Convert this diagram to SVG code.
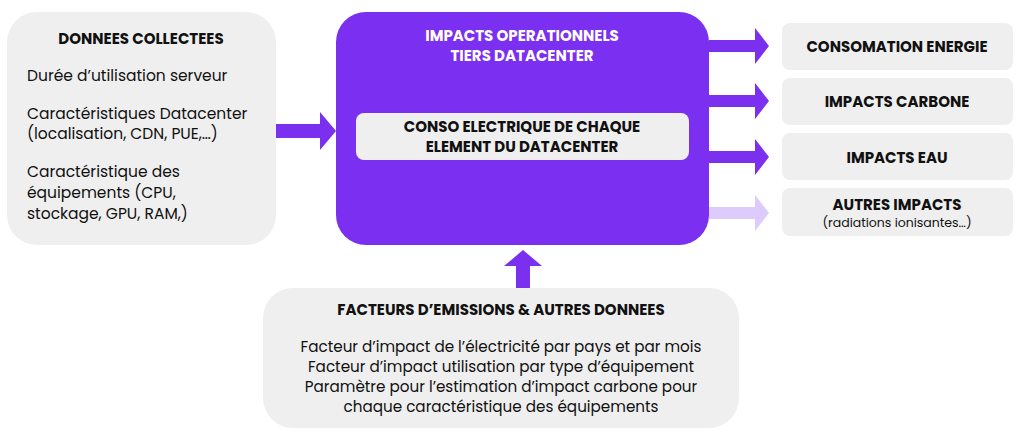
<svg xmlns="http://www.w3.org/2000/svg" width="1024" height="438" viewBox="0 0 1024 438">
<style>
.box{fill:#efefef}
.t{font-family:Poppins,"Noto Sans",sans-serif;font-size:15.5px;fill:#111}
.b{font-weight:bold;font-size:15px}
.w{fill:#fff}
.s{font-size:15.2px}
.arr{fill:#7c30ef}
</style>
<rect width="1024" height="438" fill="#fff"/>
<g id="left"><rect class="box" x="7" y="12" width="269" height="233" rx="30"/>
<text class="t b" x="141" y="44" text-anchor="middle">DONNEES COLLECTEES</text>
<text class="t" x="27" y="81">Durée d’utilisation serveur</text>
<text class="t" x="27" y="119">Caractéristiques Datacenter</text>
<text class="t" x="27" y="139">(localisation, CDN, PUE,…)</text>
<text class="t" x="27" y="177">Caractéristique des</text>
<text class="t" x="27" y="198">équipements (CPU,</text>
<text class="t" x="27" y="219">stockage, GPU, RAM,)</text></g>
<g id="main"><rect x="336" y="12" width="373" height="233" rx="30" fill="#7b2ff0"/>
<text class="t b w" x="522" y="41" text-anchor="middle">IMPACTS OPERATIONNELS</text>
<text class="t b w" x="522" y="61" text-anchor="middle">TIERS DATACENTER</text>
<rect class="box" x="356" y="113" width="333" height="47" rx="8"/>
<text class="t b" x="522" y="132" text-anchor="middle">CONSO ELECTRIQUE DE CHAQUE</text>
<text class="t b" x="522" y="152" text-anchor="middle">ELEMENT DU DATACENTER</text></g>
<g id="out1"><rect class="box" x="782" y="23" width="231" height="47" rx="8"/><text class="t b" x="897" y="52" text-anchor="middle">CONSOMATION ENERGIE</text></g>
<g id="out2"><rect class="box" x="782" y="78" width="231" height="47" rx="8"/><text class="t b" x="897" y="107" text-anchor="middle">IMPACTS CARBONE</text></g>
<g id="out3"><rect class="box" x="782" y="133" width="231" height="47" rx="8"/><text class="t b" x="897" y="163" text-anchor="middle">IMPACTS EAU</text></g>
<g id="out4"><rect class="box" x="782" y="188" width="231" height="48" rx="8"/><text class="t b" x="897" y="210" text-anchor="middle">AUTRES IMPACTS</text><text class="t" style="font-size:12.5px" x="897" y="227" text-anchor="middle">(radiations ionisantes…)</text></g>
<g id="bottom"><rect class="box" x="263" y="288" width="476" height="140" rx="30"/>
<text class="t b" x="501" y="315" text-anchor="middle">FACTEURS D’EMISSIONS &amp; AUTRES DONNEES</text>
<text class="t s" x="501" y="352" text-anchor="middle">Facteur d’impact de l’électricité par pays et par mois</text>
<text class="t s" x="501" y="372" text-anchor="middle">Facteur d’impact utilisation par type d’équipement</text>
<text class="t s" x="501" y="392" text-anchor="middle">Paramètre pour l’estimation d’impact carbone pour</text>
<text class="t s" x="501" y="412" text-anchor="middle">chaque caractéristique des équipements</text></g>
<g id="connectors">
<path class="arr" d="M276 124h44v-12l16 19l-16 19v-12h-44z"/>
<path class="arr" d="M516 288v-22h-12l19-16l19 16h-12v22z"/>
<path class="arr" d="M709 40h46v-12l14 18l-14 18v-12h-46z"/>
<path class="arr" d="M709 95h46v-12l14 18l-14 18v-12h-46z"/>
<path class="arr" d="M709 151h46v-12l14 18l-14 18v-12h-46z"/>
<path d="M709 207h46v-12l14 18l-14 18v-12h-46z" fill="#dccbfb"/>
</g>
</svg>
